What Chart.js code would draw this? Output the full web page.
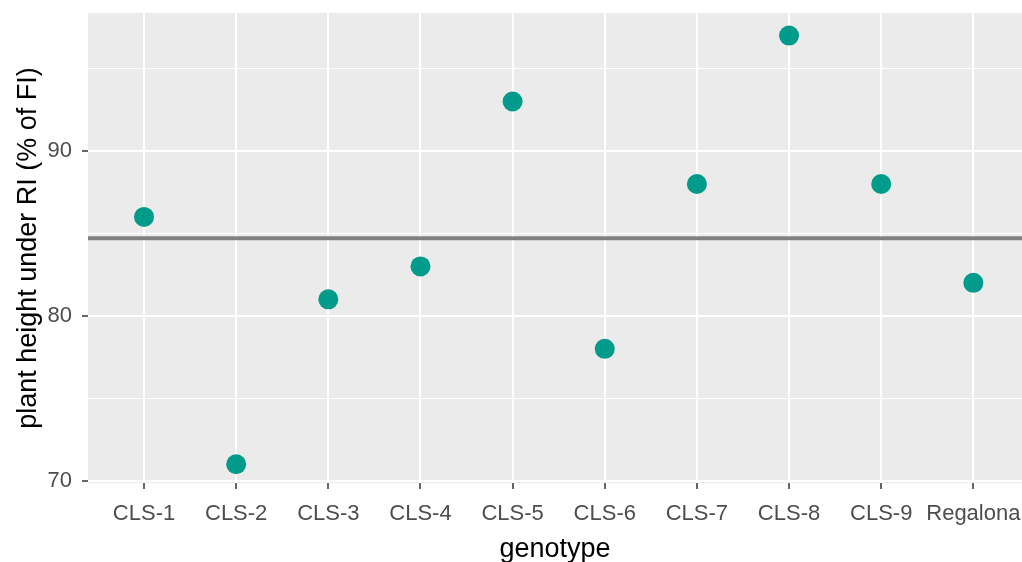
<!DOCTYPE html>
<html>
<head>
<meta charset="utf-8">
<script src="https://cdn.jsdelivr.net/npm/chart.js@4/dist/chart.umd.min.js"></script>
<style>
  html, body { margin: 0; padding: 0; background: #ffffff; }
  canvas { display: block; }
</style>
</head>
<body>
<canvas id="c" width="1022" height="562"></canvas>
<script>
// ---- data ----
const categories = ['CLS-1', 'CLS-2', 'CLS-3', 'CLS-4', 'CLS-5', 'CLS-6', 'CLS-7', 'CLS-8', 'CLS-9', 'Regalona'];
const heights = [86, 71, 81, 83, 93, 78, 88, 97, 88, 82];
const meanHeight = 84.7;
const yTickValues = [70, 75, 80, 85, 90, 95];
const yMajorTicks = [70, 80, 90];
const xTitle = 'genotype';
const yTitle = 'plant height under RI (% of FI)';

const FONT = "'Liberation Sans', Arial, sans-serif";
const PANEL_BG = '#EBEBEB';
const POINT_COLOR = '#009B8A';

function noPad(scale) {
  scale.paddingTop = 0; scale.paddingBottom = 0;
  scale.paddingLeft = 0; scale.paddingRight = 0;
}

const panelPlugin = {
  id: 'panel',
  beforeDraw(chart) {
    const { ctx, chartArea: a } = chart;
    ctx.save();
    ctx.fillStyle = PANEL_BG;
    ctx.fillRect(a.left, a.top, a.right - a.left, a.bottom - a.top);
    ctx.restore();
  },
  beforeDatasetsDraw(chart) {
    const { ctx, chartArea: a, scales } = chart;
    const y = scales.y.getPixelForValue(meanHeight);
    ctx.save();
    ctx.strokeStyle = '#808080';
    ctx.lineWidth = 4;
    ctx.beginPath();
    ctx.moveTo(a.left, y);
    ctx.lineTo(a.right, y);
    ctx.stroke();
    ctx.restore();
  }
};

new Chart(document.getElementById('c'), {
  type: 'scatter',
  data: {
    datasets: [{
      data: categories.map((c, i) => ({ x: i, y: heights[i] })),
      pointRadius: 10,
      pointHoverRadius: 10,
      pointBackgroundColor: POINT_COLOR,
      pointBorderWidth: 0,
      borderWidth: 0
    }]
  },
  options: {
    responsive: false,
    animation: false,
    devicePixelRatio: 1,
    layout: { autoPadding: false, padding: { top: 13, left: 0, right: 0, bottom: 0 } },
    plugins: { legend: { display: false }, tooltip: { enabled: false } },
    scales: {
      x: {
        type: 'linear',
        min: -0.608,
        max: 9.528,
        afterBuildTicks(scale) { scale.ticks = categories.map((c, i) => ({ value: i })); },
        afterFit(scale) { scale.height = 79; noPad(scale); },
        border: { display: false },
        grid: {
          color: '#FFFFFF',
          lineWidth: 2,
          tickColor: '#333333',
          tickLength: 6,
          tickWidth: 1.5
        },
        ticks: {
          autoSkip: false,
          maxRotation: 0,
          minRotation: 0,
          padding: 12,
          color: '#4D4D4D',
          font: { family: FONT, size: 22 },
          callback: (v) => categories[v]
        },
        title: {
          display: true,
          text: xTitle,
          color: '#000000',
          font: { family: FONT, size: 27 },
          padding: { top: 0, bottom: -4 }
        }
      },
      y: {
        type: 'linear',
        min: 69.86,
        max: 98.37,
        afterBuildTicks(scale) { scale.ticks = yTickValues.map(v => ({ value: v })); },
        afterFit(scale) { scale.width = 88; noPad(scale); },
        border: { display: false },
        grid: {
          color: '#FFFFFF',
          lineWidth: (ctx) => yMajorTicks.includes(ctx.tick && ctx.tick.value) ? 2 : 1,
          tickColor: (ctx) => yMajorTicks.includes(ctx.tick && ctx.tick.value) ? '#333333' : 'rgba(0,0,0,0)',
          tickLength: 6,
          tickWidth: 1.5
        },
        ticks: {
          padding: 10,
          color: '#4D4D4D',
          font: { family: FONT, size: 22 },
          callback: (v) => yMajorTicks.includes(v) ? String(v) : ''
        },
        title: {
          display: true,
          text: yTitle,
          color: '#000000',
          font: { family: FONT, size: 27 },
          padding: { top: 12, bottom: 0 }
        }
      }
    }
  },
  plugins: [panelPlugin]
});
</script>
</body>
</html>
